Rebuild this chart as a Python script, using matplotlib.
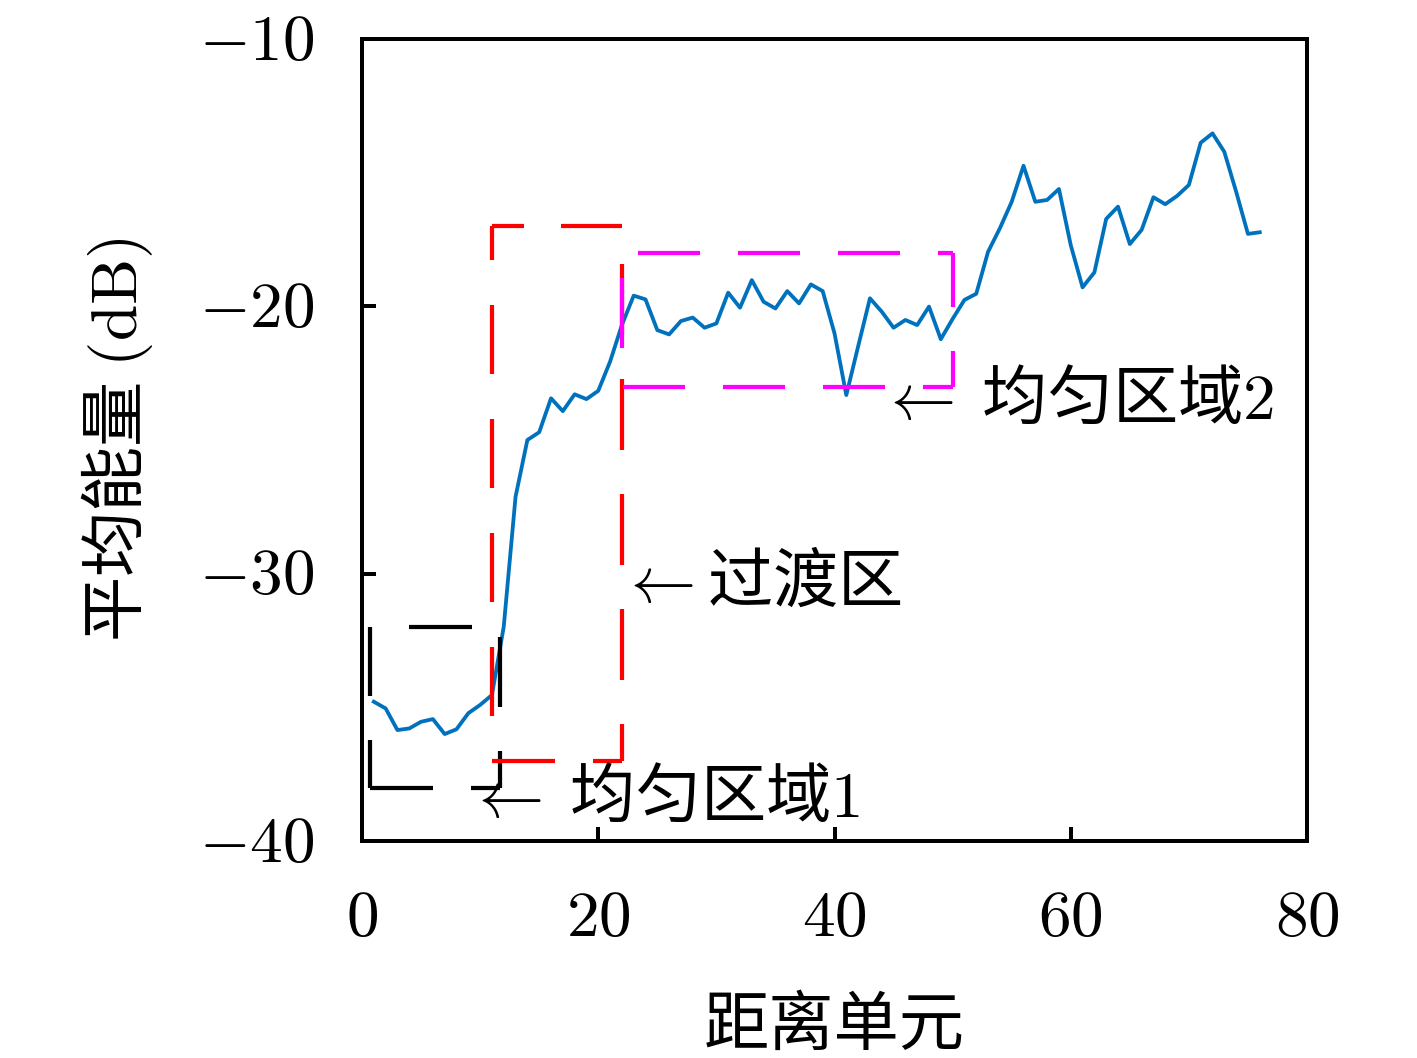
import matplotlib
matplotlib.use("Agg")
import matplotlib.pyplot as plt
from matplotlib.ticker import FixedLocator, FuncFormatter
from matplotlib.transforms import ScaledTranslation

plt.rcParams['font.family'] = ['Noto Sans CJK SC', 'DejaVu Sans']
plt.rcParams['mathtext.fontset'] = 'cm'
plt.rcParams['lines.scale_dashes'] = False

# ---------------- data ----------------
range_cells = list(range(1, 77))
avg_energy_db = [
    -34.79, -35.04, -35.85, -35.79, -35.54, -35.44, -36.00, -35.82, -35.22, -34.91,
    -34.54, -31.98, -27.12, -25.00, -24.71, -23.44, -23.92, -23.29, -23.47, -23.16,
    -22.07, -20.70, -19.60, -19.74, -20.89, -21.05, -20.55, -20.42, -20.80, -20.64,
    -19.49, -20.05, -19.02, -19.83, -20.08, -19.43, -19.89, -19.18, -19.43, -21.01,
    -23.32, -21.50, -19.70, -20.20, -20.80, -20.51, -20.70, -20.01, -21.23, -20.47,
    -19.76, -19.53, -17.96, -17.08, -16.09, -14.74, -16.09, -16.02, -15.61, -17.71,
    -19.29, -18.73, -16.73, -16.27, -17.67, -17.14, -15.92, -16.18, -15.87, -15.46,
    -13.88, -13.53, -14.22, -15.71, -17.29, -17.23,
]
x_ticks = [0, 20, 40, 60, 80]
y_ticks = [-40, -30, -20, -10]

# region boxes: (x_left, x_right, y_bottom, y_top)
box_uniform1 = (0.7, 11.7, -38.0, -32.0)
box_transition = (11.0, 22.0, -37.0, -17.0)
box_uniform2 = (22.0, 50.0, -23.0, -18.0)

label_uniform1 = '均匀区域'
label_transition = '过渡区'
label_uniform2 = '均匀区域'
xlabel = '距离单元'
ylabel = '平均能量'

# ---------------- figure ----------------
DPI = 100
fig = plt.figure(figsize=(14.17, 10.58), dpi=DPI)
ax = fig.add_axes([362/1417, 1-841/1058, (1307-362)/1417, (841-39)/1058])
PX = 72.0 / DPI  # px -> pt
FS = 47

ax.plot(range_cells, avg_energy_db, color='#0072BD', lw=3.8*PX, zorder=3)

def side(p0, p1, color, on, off, phase):
    ls = (phase*PX, (on*PX, off*PX))
    ax.plot([p0[0], p1[0]], [p0[1], p1[1]], color=color, lw=4.2*PX,
            linestyle=ls, dash_capstyle='butt', zorder=4)

def box(b, color, specs):
    x0, x1, y0, y1 = b
    TL, TR, BR, BL = (x0, y1), (x1, y1), (x1, y0), (x0, y0)
    side(TL, TR, color, *specs[0])
    side(TR, BR, color, *specs[1])
    side(BR, BL, color, *specs[2])
    side(BL, TL, color, *specs[3])

box(box_uniform1, 'black', [(63, 40, 64), (70, 44, 104), (63, 38, 34), (70, 44, 22)])
box(box_transition, '#FF0000', [(63, 37, 31), (71, 44, 77), (63, 38, 34), (69, 45, 69)])
box(box_uniform2, '#FF00FF', [(62, 38, 84), (70, 44, 16), (62, 38, 32), (70, 44, 75)])

ax.text(43.75, -23.54, r'$\leftarrow$ ' + label_uniform2 + r'$2$', fontsize=FS,
        ha='left', va='center', zorder=5)
ax.text(21.73, -30.39, r'$\leftarrow$' + label_transition, fontsize=FS,
        ha='left', va='center', zorder=5)
ax.text(8.93, -38.43, r'$\leftarrow$ ' + label_uniform1 + r'$1$', fontsize=FS,
        ha='left', va='center', zorder=5)

ax.set_xlim(0, 80)
ax.set_ylim(-40, -10)
ax.xaxis.set_major_locator(FixedLocator(x_ticks))
ax.yaxis.set_major_locator(FixedLocator(y_ticks))
ax.xaxis.set_major_formatter(FuncFormatter(lambda v, p: r'$%d$' % v))
ax.yaxis.set_major_formatter(FuncFormatter(lambda v, p: r'$%d$' % v))
ax.tick_params(direction='in', length=14*PX, width=4*PX, labelsize=FS,
               top=False, right=False)
ax.tick_params(axis='x', pad=31)
ax.tick_params(axis='y', pad=34)
for s in ax.spines.values():
    s.set_linewidth(4*PX)

shift_up = ScaledTranslation(0, 5/DPI, fig.dpi_scale_trans)
for lbl in ax.get_yticklabels():
    lbl.set_transform(lbl.get_transform() + shift_up)

ax.set_xlabel(xlabel, fontsize=FS)
ax.xaxis.label.set_va('center')
ax.xaxis.set_label_coords(0.5, (841-1027)/802)
ax.set_ylabel(ylabel + r' $(\mathrm{dB})$', fontsize=FS)
ax.yaxis.label.set_va('center')
ax.yaxis.set_label_coords((117-362)/945, 0.5)

fig.savefig('out.png', dpi=DPI)
